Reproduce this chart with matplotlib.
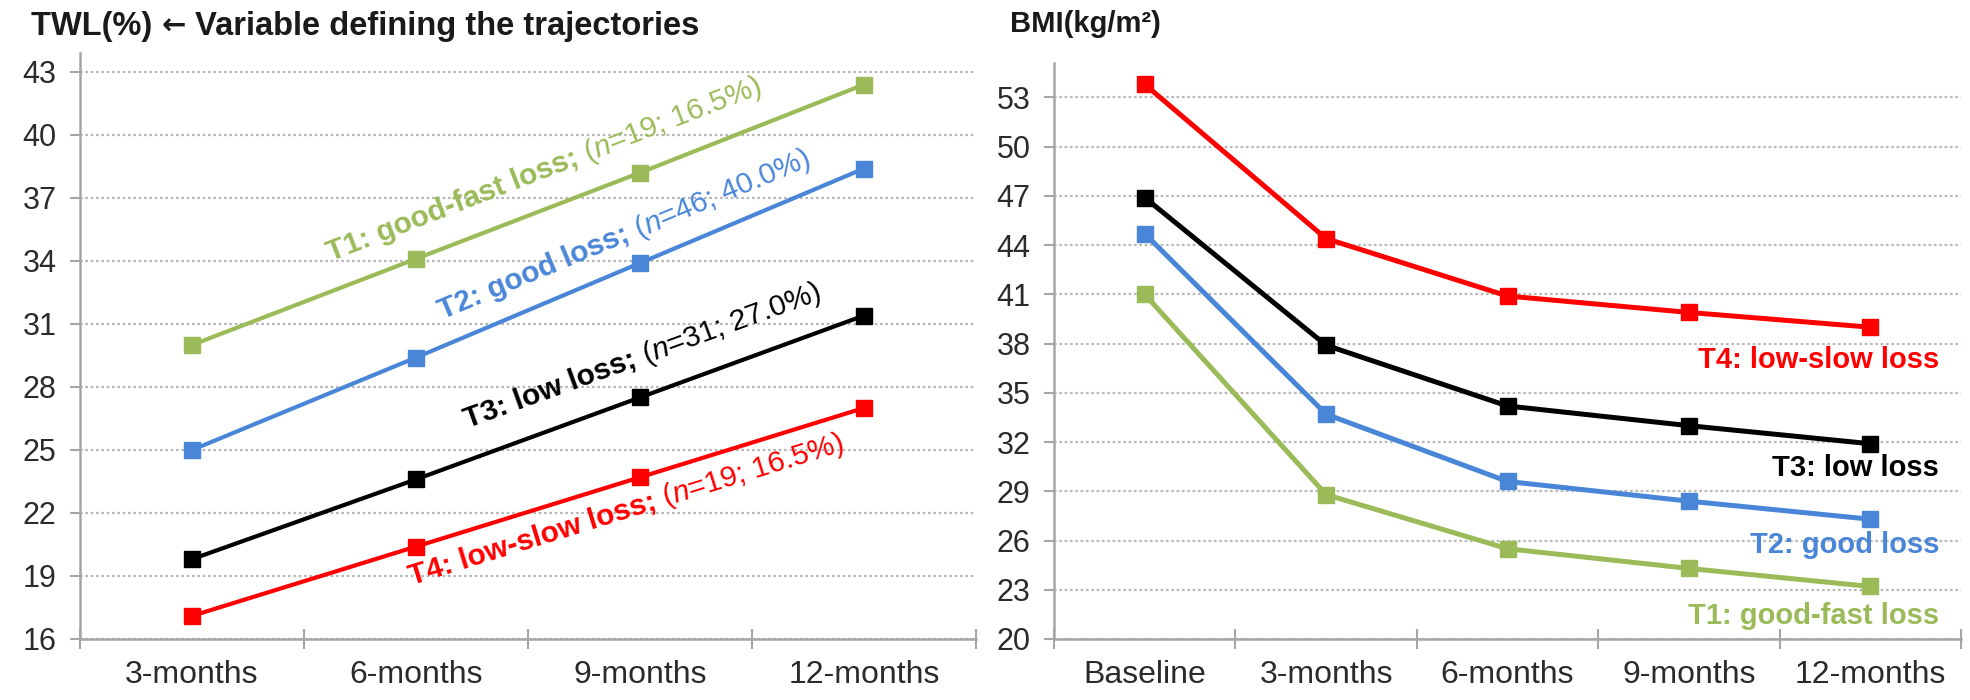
import numpy as np
import matplotlib.pyplot as plt
from matplotlib.font_manager import FontProperties
from matplotlib.transforms import offset_copy

plt.rcParams['font.family'] = ['Liberation Sans', 'DejaVu Sans']

# data
twl_months = ['3-months', '6-months', '9-months', '12-months']
bmi_months = ['Baseline', '3-months', '6-months', '9-months', '12-months']

twl_t1 = [30.0, 34.1, 38.2, 42.4]
twl_t2 = [25.0, 29.4, 33.9, 38.4]
twl_t3 = [19.8, 23.6, 27.5, 31.4]
twl_t4 = [17.1, 20.4, 23.7, 27.0]

bmi_t1 = [41.0, 28.8, 25.5, 24.3, 23.2]
bmi_t2 = [44.7, 33.7, 29.6, 28.4, 27.3]
bmi_t3 = [46.9, 37.9, 34.2, 33.0, 31.9]
bmi_t4 = [53.8, 44.4, 40.9, 39.9, 39.0]

twl_names = ['T1: good-fast loss; ', 'T2: good loss; ', 'T3: low loss; ', 'T4: low-slow loss; ']
twl_counts = [('19', '16.5%'), ('46', '40.0%'), ('31', '27.0%'), ('19', '16.5%')]
bmi_names = ['T1: good-fast loss', 'T2: good loss', 'T3: low loss', 'T4: low-slow loss']

green = '#9bbb59'
blue = '#4a86d8'
black = '#000000'
red = '#ff0000'
colors = [green, blue, black, red]

fig = plt.figure(figsize=(19.7, 7), dpi=100)
W, H = 1970, 700
ax1 = fig.add_axes([80 / W, (H - 639) / H, 896 / W, 586 / H])
ax2 = fig.add_axes([1054 / W, (H - 639) / H, 907 / W, 576 / H])


def style(ax, cats, ylim, yticks):
    n = len(cats)
    ax.set_xlim(-0.5, n - 0.5)
    ax.set_ylim(*ylim)
    ax.set_yticks(yticks)
    ax.set_xticks(np.arange(-0.5, n, 1.0))
    ax.set_xticklabels([''] * (n + 1))
    ax.set_xticks(range(n), minor=True)
    ax.set_xticklabels(cats, minor=True)
    ax.tick_params(axis='x', which='major', direction='inout', length=14,
                   width=1.5, color='#a6a6a6')
    ax.tick_params(axis='x', which='minor', length=0, pad=15,
                   labelsize=23, labelcolor='#2b2b2b')
    ax.tick_params(axis='y', direction='out', length=7, width=1.5,
                   color='#a6a6a6', pad=10, labelsize=22, labelcolor='#2b2b2b')
    for s in ['top', 'right']:
        ax.spines[s].set_visible(False)
    for s in ['left', 'bottom']:
        ax.spines[s].set_color('#a6a6a6')
        ax.spines[s].set_linewidth(1.8)
    ax.yaxis.grid(True, linestyle=(0, (1.2, 1.2)), color='#b8b8b8', linewidth=1.6)
    ax.set_axisbelow(True)


style(ax1, twl_months, (16, 43.9), np.arange(16, 44, 3))
style(ax2, bmi_months, (20, 55.1), np.arange(20, 54, 3))

x1 = np.arange(len(twl_months))
for ys, c in zip([twl_t4, twl_t3, twl_t2, twl_t1], [red, black, blue, green]):
    ax1.plot(x1, ys, color=c, lw=3.0, marker='s', ms=12, zorder=3)

x2 = np.arange(len(bmi_months))
for ys, c in zip([bmi_t1, bmi_t2, bmi_t3, bmi_t4], [green, blue, black, red]):
    ax2.plot(x2, ys, color=c, lw=3.6, marker='s', ms=12, zorder=3)

renderer = fig.canvas.get_renderer()


def text_w(s, fp):
    w1 = renderer.get_text_width_height_descent(s + '|', fp, ismath=False)[0]
    w0 = renderer.get_text_width_height_descent('|', fp, ismath=False)[0]
    return w1 - w0


# rotated labels on the TWL panel
fs = 21.5
fp_b = FontProperties(family=['Liberation Sans', 'DejaVu Sans'], weight='bold', size=fs)
fp_r = FontProperties(family=['Liberation Sans', 'DejaVu Sans'], size=fs)
fp_i = FontProperties(family=['Liberation Sans', 'DejaVu Sans'], style='italic', size=fs)

label_pos = [(0.62, 34.0), (1.12, 31.2), (1.23, 26.05), (0.98, 18.6)]
series = [twl_t1, twl_t2, twl_t3, twl_t4]
for name, (n, pct), (lx, ly), ys, c in zip(twl_names, twl_counts, label_pos, series, colors):
    p0 = ax1.transData.transform((0, ys[0]))
    p1 = ax1.transData.transform((3, ys[3]))
    ang = np.degrees(np.arctan2(p1[1] - p0[1], p1[0] - p0[0]))
    ca, sa = np.cos(np.radians(ang)), np.sin(np.radians(ang))
    pieces = [(name, fp_b), ('(', fp_r), ('n', fp_i), ('=' + n + '; ' + pct + ')', fp_r)]
    adv = 0.0
    for s, fp in pieces:
        tr = offset_copy(ax1.transData, fig=fig, x=adv * ca, y=adv * sa, units='dots')
        ax1.text(lx, ly, s, transform=tr, rotation=ang, rotation_mode='anchor',
                 ha='left', va='baseline', color=c, fontproperties=fp, zorder=4)
        adv += text_w(s, fp)

# end labels on the BMI panel
bmi_label_y = [21.4, 25.7, 30.4, 37.0]
for name, y, c in zip(bmi_names, bmi_label_y, colors):
    ax2.text(4.38, y, name, ha='right', va='center', color=c,
             fontsize=21, fontweight='bold', zorder=4)

# panel titles (arrow drawn in DejaVu, which has a longer glyph)
ft = FontProperties(family='Liberation Sans', weight='bold', size=23.5)
fa = FontProperties(family='DejaVu Sans', weight='bold', size=21)
title_parts = [('TWL(%) ', ft), ('\u2190', fa), (' Variable defining the trajectories', ft)]
x0 = 31
for s, fp in title_parts:
    fig.text(x0 / W, 1 - 35 / H, s, fontproperties=fp, color='#1a1a1a',
             ha='left', va='baseline')
    x0 += text_w(s, fp)
fig.text(1010 / W, 1 - 32 / H, 'BMI(kg/m\u00b2)',
         fontsize=21, fontweight='bold', color='#1a1a1a', ha='left', va='baseline')

fig.savefig('out.png', dpi=100)
